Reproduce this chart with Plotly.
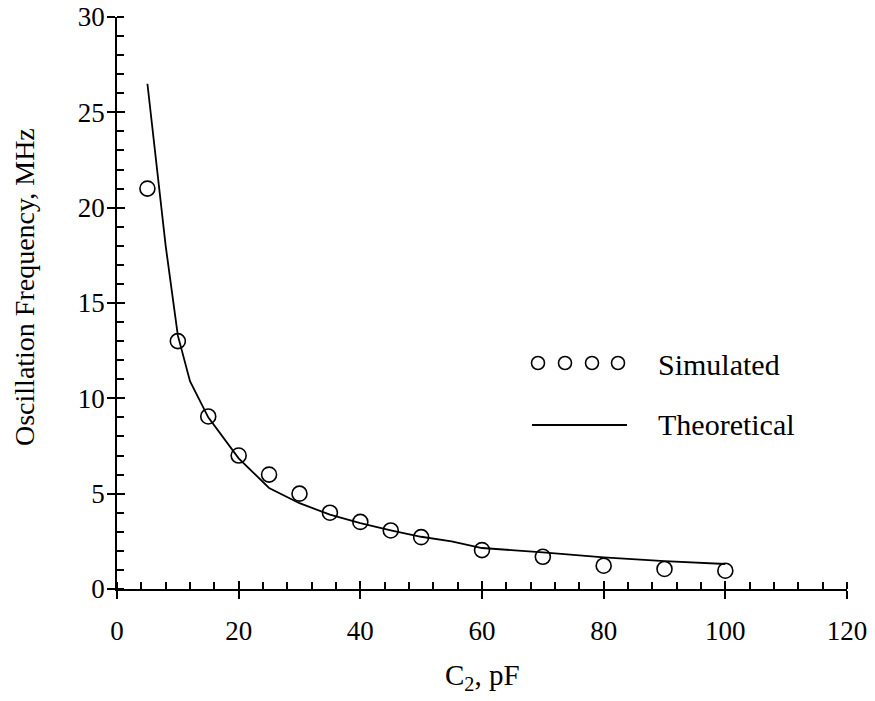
import plotly.graph_objects as go

# Data
sim_c2 = [5, 10, 15, 20, 25, 30, 35, 40, 45, 50, 60, 70, 80, 90, 100]
sim_freq = [21.0, 13.0, 9.05, 7.0, 6.0, 5.0, 4.0, 3.52, 3.07, 2.72, 2.04, 1.69, 1.22, 1.05, 0.96]

theo_c2 = [5, 6, 7, 8, 10, 12, 15, 20, 25, 30, 35, 40, 45, 50, 55, 60, 70, 80, 90, 100]
theo_freq = [26.5, 23.7, 20.9, 18.0, 13.3, 10.9, 9.0, 6.85, 5.3, 4.5, 3.9, 3.45, 3.08, 2.74, 2.5, 2.15, 1.92, 1.66, 1.46, 1.31]

x_major = [0, 20, 40, 60, 80, 100, 120]
y_major = [0, 5, 10, 15, 20, 25, 30]
x_range = [0, 120]
y_range = [0, 30]

OFF = 8  # page body margin
W, H = 875 - OFF, 701 - OFF
# page-pixel plot box: x 117..847, y 17..589
L, R, T, B = 117 - OFF, W - (847 - OFF), 17 - OFF, H - (589 - OFF)
PW, PH = W - L - R, H - T - B

def px(xp):
    return (xp - OFF - L) / PW

def py(yp):
    return (H - B - (yp - OFF)) / PH

FONT = "Liberation Serif, Times New Roman, serif"

fig = go.Figure()
fig.add_trace(go.Scatter(
    x=theo_c2, y=theo_freq, mode="lines",
    line=dict(color="black", width=1.8),
    xaxis="x2", yaxis="y2", showlegend=False, hoverinfo="skip"))
fig.add_trace(go.Scatter(
    x=sim_c2, y=sim_freq, mode="markers",
    marker=dict(symbol="circle-open", size=15, color="black", line=dict(width=1.6)),
    showlegend=False))

axis_common = dict(
    showgrid=False, zeroline=False, linecolor="black", linewidth=1.8,
    ticks="outside", ticklen=8, tickwidth=1.5, tickcolor="black",
    tickfont=dict(family=FONT, size=27, color="black"),
    ticklabeloverflow="allow",
)

fig.update_layout(
    width=W, height=H,
    margin=dict(l=L, r=R, t=T, b=B, autoexpand=False),
    paper_bgcolor="white", plot_bgcolor="white",
    font=dict(family=FONT, color="black"),
    xaxis=dict(range=x_range, tickvals=x_major, showline=True,
               minor=dict(dtick=4, ticks="inside", ticklen=7, tickwidth=1.5, tickcolor="black"),
               ticklabelstandoff=9,
               **axis_common),
    yaxis=dict(range=y_range, tickvals=y_major, showline=True,
               minor=dict(dtick=1, ticks="inside", ticklen=7, tickwidth=1.5, tickcolor="black"),
               ticklabelstandoff=-3,
               **axis_common),
    xaxis2=dict(range=x_range, overlaying="x", anchor="y2", side="bottom",
                tickvals=x_major, ticks="inside", ticklen=8, tickwidth=1.5, tickcolor="black",
                showticklabels=False, showline=False, showgrid=False, zeroline=False),
    yaxis2=dict(range=y_range, overlaying="y", anchor="x2", side="left",
                tickvals=y_major, ticks="inside", ticklen=8, tickwidth=1.5, tickcolor="black",
                showticklabels=False, showline=False, showgrid=False, zeroline=False),
)

# axis titles as annotations
fig.add_annotation(text="C<sub>2</sub>, pF", xref="paper", yref="paper",
                   x=px(482), y=py(677), xanchor="center", yanchor="middle",
                   showarrow=False, font=dict(family=FONT, size=29, color="black"))
fig.add_annotation(text="Oscillation Frequency, MHz", xref="paper", yref="paper",
                   x=px(25), y=py(287), xanchor="center", yanchor="middle", textangle=-90,
                   showarrow=False, font=dict(family=FONT, size=28, color="black"))

# custom legend
for cx in [538, 565, 592, 618]:
    r = 6.5
    fig.add_shape(type="circle", xref="paper", yref="paper",
                  x0=px(cx - r), x1=px(cx + r), y0=py(363 + r), y1=py(363 - r),
                  line=dict(color="black", width=1.6))
fig.add_shape(type="line", xref="paper", yref="paper",
              x0=px(532), x1=px(627), y0=py(425), y1=py(425),
              line=dict(color="black", width=1.8))
fig.add_annotation(text="Simulated", xref="paper", yref="paper", x=px(656), y=py(364),
                   xanchor="left", yanchor="middle", showarrow=False,
                   font=dict(family=FONT, size=30, color="black"))
fig.add_annotation(text="Theoretical", xref="paper", yref="paper", x=px(656), y=py(424),
                   xanchor="left", yanchor="middle", showarrow=False,
                   font=dict(family=FONT, size=30, color="black"))

fig.write_html("out.html")
